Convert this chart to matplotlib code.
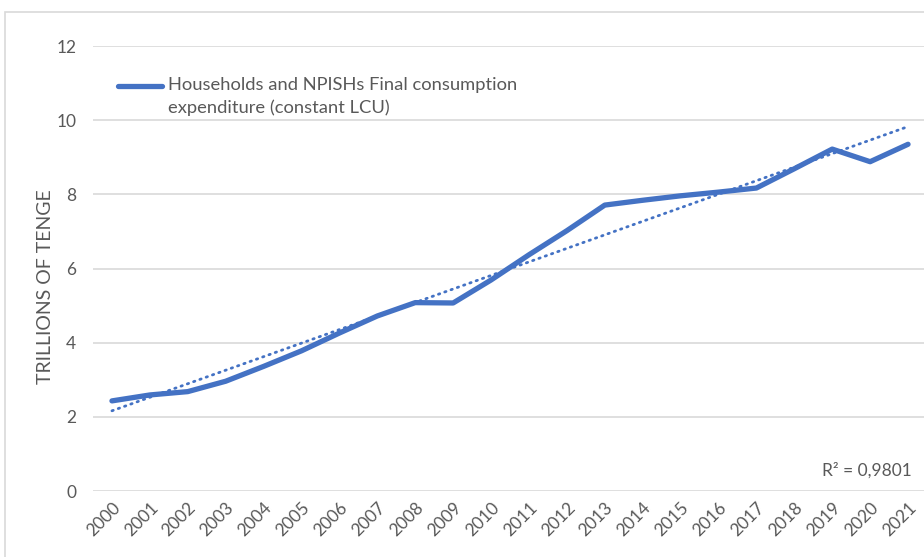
import numpy as np
import matplotlib.pyplot as plt
from matplotlib.patches import Rectangle
from matplotlib.lines import Line2D

years = [str(y) for y in range(2000, 2022)]
consumption = [2.43, 2.59, 2.68, 2.96, 3.36, 3.78, 4.26, 4.72, 5.08, 5.07, 5.69, 6.37,
               7.02, 7.71, 7.84, 7.96, 8.06, 8.17, 8.69, 9.22, 8.88, 9.35]
series_label = "Households and NPISHs Final consumption\nexpenditure (constant LCU)"
r2_text = "R\u00b2 = 0,9801"

blue = "#4472C4"
grey = "#595959"
grid = "#D9D9D9"

plt.rcParams['font.family'] = ['Lato', 'DejaVu Sans']

fig = plt.figure(figsize=(9.24, 5.57), dpi=100)
W, H = 924.0, 557.0

# light chart border
fig.patches.append(Rectangle((5 / W, -0.1), 1.2, (H - 12) / H + 0.1, transform=fig.transFigure,
                             fill=False, edgecolor=grid, linewidth=1.2))

ax = fig.add_axes([93 / W, (H - 491) / H, 834 / W, 445 / H])
x = np.arange(len(years))
ax.plot(x, consumption, color=blue, linewidth=3.8, solid_capstyle='round',
        solid_joinstyle='round', zorder=3)

# linear trend
k, b = np.polyfit(x, consumption, 1)
ax.plot(x, k * x + b, color=blue, linewidth=2.0, linestyle=(0, (0.5, 1.9)),
        dash_capstyle='round', zorder=2)

ax.set_xlim(-0.5, len(years) - 0.5)
ax.set_ylim(0, 12)
ax.set_yticks(range(0, 13, 2))
ax.grid(axis='y', color=grid, linewidth=1.2)
ax.set_axisbelow(True)
for s in ax.spines.values():
    s.set_visible(False)
ax.tick_params(length=0, colors=grey, labelsize=12.5)
ax.tick_params(axis='y', pad=12)
ax.set_xticks(x)
ax.set_xticklabels(years, rotation=45, ha='right', rotation_mode='anchor')
ax.tick_params(axis='x', pad=6)
ax.set_ylabel("TRILLIONS OF TENGE", color=grey, fontsize=14)
ax.yaxis.set_label_coords(-0.047, 0.46)

# legend entry
fig.add_artist(Line2D([118 / W, 162 / W], [(H - 86) / H] * 2, transform=fig.transFigure,
                      color=blue, linewidth=3.8, solid_capstyle='round'))
fig.text(168 / W, (H - 77) / H, series_label, color=grey, fontsize=13.2,
         ha='left', va='top', linespacing=1.5)

fig.text(912 / W, (H - 470) / H, r2_text, color=grey, fontsize=12.5, ha='right', va='center')

fig.savefig("out.png", dpi=100)
